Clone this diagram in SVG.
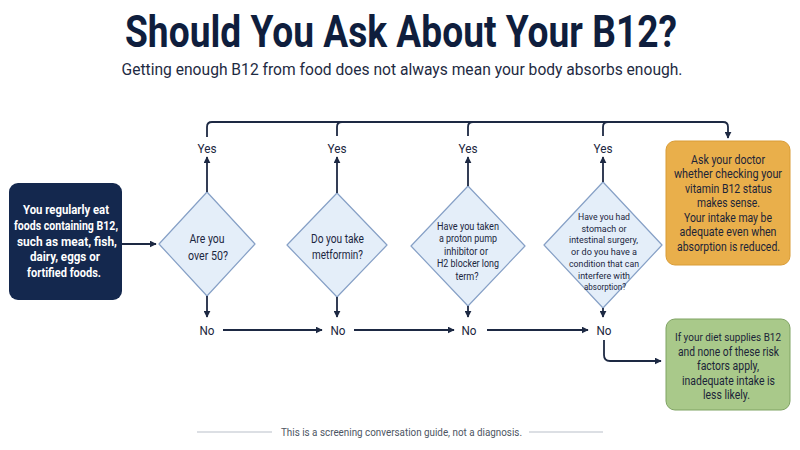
<svg xmlns="http://www.w3.org/2000/svg" width="800" height="450" viewBox="0 0 800 450">
<defs>
<marker id="ah" viewBox="0 0 10 10" refX="9" refY="5" markerWidth="7" markerHeight="7" markerUnits="userSpaceOnUse" orient="auto">
<path d="M0,0 L10,5 L0,10 z" fill="#1d2943"/>
</marker>
<style>
text{font-family:Roboto,"Liberation Sans",sans-serif;text-anchor:middle;fill:#1b2640}
.title{font-size:44px;font-weight:700;fill:#0f1e3d}
.sub{font-size:16.5px;fill:#1e2a42}
.start text{fill:#ffffff;font-weight:700;font-size:12.5px}
.dia polygon{fill:#e4eef9;stroke:#86a0c6;stroke-width:1.2;stroke-linejoin:round}
.d{font-size:12px}
.ds{font-size:10.5px}
.dx{font-size:9.6px}
.lbl{font-size:13px;fill:#1b2640}
.box text{font-size:12.5px;fill:#1b2438}
.box text.sm{font-size:11.8px}
.conn path{fill:none;stroke:#1d2943;stroke-width:1.8}
.foot{font-size:11px;fill:#4d5563}
</style>
</defs>
<rect width="800" height="450" fill="#ffffff"/>
<text class="title" x="401" y="46.5" textLength="552" lengthAdjust="spacingAndGlyphs">Should You Ask About Your B12?</text>
<text class="sub" x="402" y="75" textLength="561" lengthAdjust="spacingAndGlyphs">Getting enough B12 from food does not always mean your body absorbs enough.</text>

<g id="start" class="start">
<rect x="9" y="183" width="113" height="117" rx="9" fill="#14284e"/>
<text x="66" y="214" textLength="86" lengthAdjust="spacingAndGlyphs">You regularly eat</text>
<text x="66" y="230" textLength="104" lengthAdjust="spacingAndGlyphs">foods containing B12,</text>
<text x="67" y="245.5" textLength="100" lengthAdjust="spacingAndGlyphs">such as meat, fish,</text>
<text x="65" y="261" textLength="70" lengthAdjust="spacingAndGlyphs">dairy, eggs or</text>
<text x="64" y="276.5" textLength="74" lengthAdjust="spacingAndGlyphs">fortified foods.</text>
</g>

<g id="q1" class="dia">
<polygon points="207,192 255,244 207,296 159,244"/>
<text class="d" x="207" y="243" textLength="35" lengthAdjust="spacingAndGlyphs">Are you</text>
<text class="d" x="208" y="260" textLength="40" lengthAdjust="spacingAndGlyphs">over 50?</text>
</g>

<g id="q2" class="dia">
<polygon points="337,193 387,245 337,297 287,245"/>
<text class="d" x="337.5" y="243" textLength="53" lengthAdjust="spacingAndGlyphs">Do you take</text>
<text class="d" x="337.5" y="258.5" textLength="51" lengthAdjust="spacingAndGlyphs">metformin?</text>
</g>

<g id="q3" class="dia">
<polygon points="468,186 525,246 468,306 411,246"/>
<text class="ds" x="468" y="230" textLength="62" lengthAdjust="spacingAndGlyphs">Have you taken</text>
<text class="ds" x="468" y="242" textLength="58" lengthAdjust="spacingAndGlyphs">a proton pump</text>
<text class="ds" x="466" y="254.5" textLength="44" lengthAdjust="spacingAndGlyphs">inhibitor or</text>
<text class="ds" x="468" y="267" textLength="62" lengthAdjust="spacingAndGlyphs">H2 blocker long</text>
<text class="ds" x="467" y="279.5" textLength="23" lengthAdjust="spacingAndGlyphs">term?</text>
</g>

<g id="q4" class="dia">
<polygon points="603,182 662,245 603,308 544,245"/>
<text class="dx" x="604" y="220" textLength="52" lengthAdjust="spacingAndGlyphs">Have you had</text>
<text class="dx" x="604" y="231.7" textLength="45" lengthAdjust="spacingAndGlyphs">stomach or</text>
<text class="dx" x="603.5" y="243.4" textLength="69" lengthAdjust="spacingAndGlyphs">intestinal surgery,</text>
<text class="dx" x="604" y="255.1" textLength="66" lengthAdjust="spacingAndGlyphs">or do you have a</text>
<text class="dx" x="604" y="266.8" textLength="70" lengthAdjust="spacingAndGlyphs">condition that can</text>
<text class="dx" x="604" y="278.5" textLength="52" lengthAdjust="spacingAndGlyphs">interfere with</text>
<text class="dx" x="605" y="290.2" textLength="42" lengthAdjust="spacingAndGlyphs">absorption?</text>
</g>

<g id="ask" class="box">
<rect x="666" y="141" width="124" height="124" rx="9" fill="#e9af4b" stroke="#d99c36" stroke-width="1"/>
<text x="728" y="163.5" textLength="74" lengthAdjust="spacingAndGlyphs">Ask your doctor</text>
<text x="728" y="178" textLength="108" lengthAdjust="spacingAndGlyphs">whether checking your</text>
<text x="728.5" y="192.5" textLength="87" lengthAdjust="spacingAndGlyphs">vitamin B12 status</text>
<text x="728.5" y="207" textLength="63" lengthAdjust="spacingAndGlyphs">makes sense.</text>
<text x="728" y="221.5" textLength="88" lengthAdjust="spacingAndGlyphs">Your intake may be</text>
<text x="728" y="236" textLength="97" lengthAdjust="spacingAndGlyphs">adequate even when</text>
<text x="728.5" y="250.5" textLength="103" lengthAdjust="spacingAndGlyphs">absorption is reduced.</text>
</g>

<g id="likely" class="box">
<rect x="666" y="319" width="124" height="91" rx="9" fill="#a9c98a" stroke="#7fa363" stroke-width="1"/>
<text class="sm" x="728" y="341" textLength="106" lengthAdjust="spacingAndGlyphs">If your diet supplies B12</text>
<text x="728.5" y="355.5" textLength="101" lengthAdjust="spacingAndGlyphs">and none of these risk</text>
<text x="728" y="370" textLength="62" lengthAdjust="spacingAndGlyphs">factors apply,</text>
<text x="728.5" y="384.5" textLength="93" lengthAdjust="spacingAndGlyphs">inadequate intake is</text>
<text x="726.5" y="399" textLength="47" lengthAdjust="spacingAndGlyphs">less likely.</text>
</g>

<g id="connectors" class="conn">
<path d="M122,244 H156" marker-end="url(#ah)"/>
<path d="M207,192 V157" marker-end="url(#ah)"/>
<path d="M337,193 V157" marker-end="url(#ah)"/>
<path d="M468,186 V157" marker-end="url(#ah)"/>
<path d="M603,182 V157" marker-end="url(#ah)"/>
<path d="M207,137 V127 Q207,122 212,122 H723 Q728,122 728,127 V138" marker-end="url(#ah)"/>
<path d="M337,136 V127 Q337,122 342,122"/>
<path d="M468,136 V127 Q468,122 473,122"/>
<path d="M603,136 V127 Q603,122 608,122"/>
<path d="M207,296 V317" marker-end="url(#ah)"/>
<path d="M337,297 V317" marker-end="url(#ah)"/>
<path d="M468,306 V317" marker-end="url(#ah)"/>
<path d="M603,308 V317" marker-end="url(#ah)"/>
<path d="M223,330 H322" marker-end="url(#ah)"/>
<path d="M354,330 H454" marker-end="url(#ah)"/>
<path d="M487,330 H588" marker-end="url(#ah)"/>
<path d="M604,340 V355 Q604,361 610,361 H661" marker-end="url(#ah)"/>
</g>

<g id="labels">
<text class="lbl" x="207" y="152.5" textLength="19" lengthAdjust="spacingAndGlyphs">Yes</text>
<text class="lbl" x="337" y="152.5" textLength="19" lengthAdjust="spacingAndGlyphs">Yes</text>
<text class="lbl" x="468" y="152.5" textLength="19" lengthAdjust="spacingAndGlyphs">Yes</text>
<text class="lbl" x="603" y="152.5" textLength="19" lengthAdjust="spacingAndGlyphs">Yes</text>
<text class="lbl" x="207" y="334.5" textLength="15" lengthAdjust="spacingAndGlyphs">No</text>
<text class="lbl" x="338" y="334.5" textLength="15" lengthAdjust="spacingAndGlyphs">No</text>
<text class="lbl" x="469" y="334.5" textLength="15" lengthAdjust="spacingAndGlyphs">No</text>
<text class="lbl" x="604" y="334.5" textLength="15" lengthAdjust="spacingAndGlyphs">No</text>
</g>

<g id="footer">
<line x1="197" y1="432" x2="272" y2="432" stroke="#b9bfc9" stroke-width="1"/>
<line x1="529" y1="432" x2="603" y2="432" stroke="#b9bfc9" stroke-width="1"/>
<text class="foot" x="401.5" y="435.5" textLength="241" lengthAdjust="spacingAndGlyphs">This is a screening conversation guide, not a diagnosis.</text>
</g>
</svg>
